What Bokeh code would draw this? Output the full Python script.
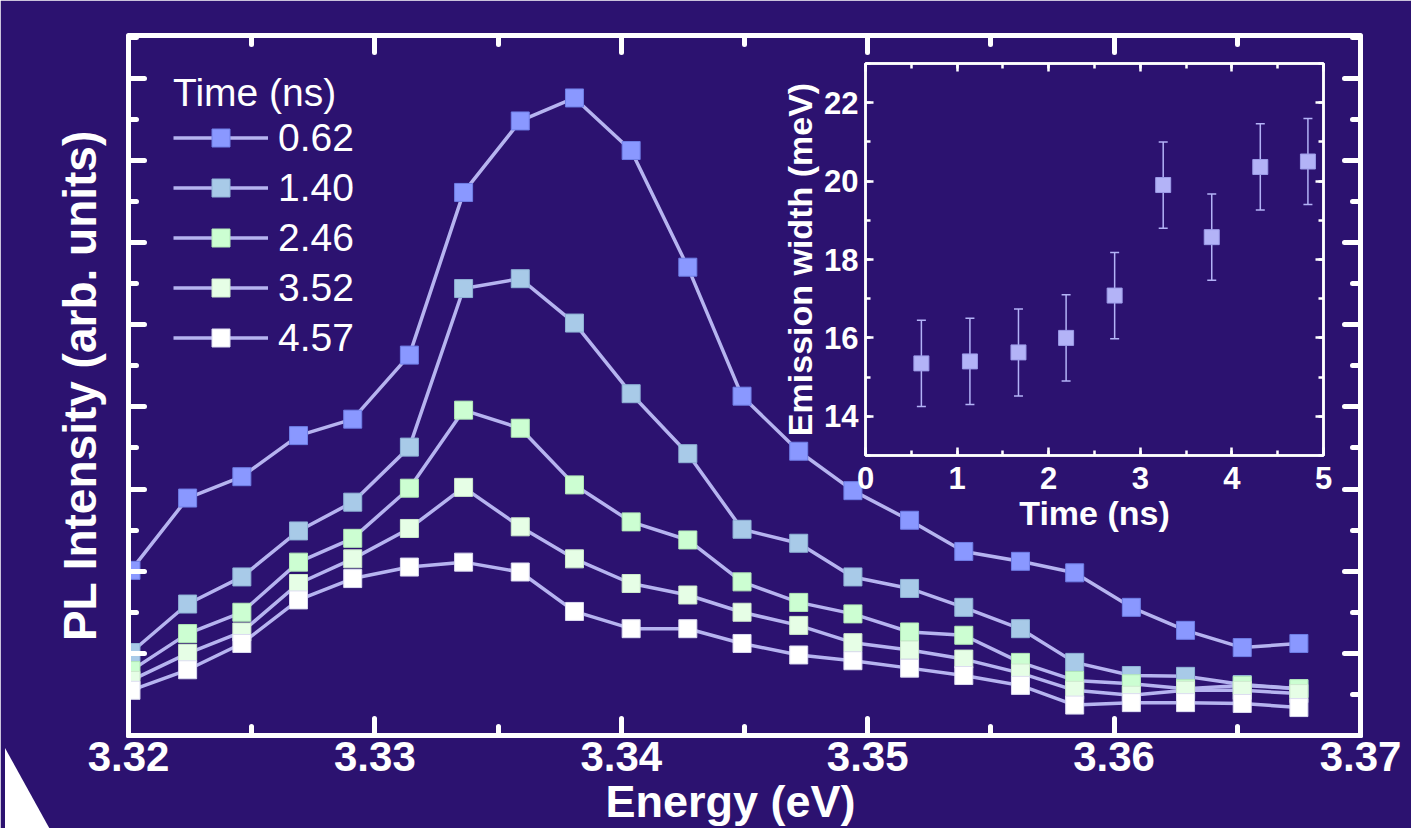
from bokeh.plotting import figure
from bokeh.models import (ColumnDataSource, Legend, LegendItem, LinearAxis, FixedTicker,
                          SingleIntervalTicker, Whisker, TeeHead, Title, Div, Range1d,
                          CustomJSTickFormatter)
from bokeh.layouts import column
from bokeh.embed import file_html
from bokeh.resources import INLINE

BG = "#2c1270"
LINE = "#b6b4f0"
FONT = "Liberation Sans"

# ---------------- data ----------------
energy = [3.3201, 3.3224, 3.3246, 3.3269, 3.3291, 3.3314, 3.3336, 3.3359, 3.3381, 3.3404, 3.3427,
          3.3449, 3.3472, 3.3494, 3.3517, 3.3539, 3.3562, 3.3584, 3.3607, 3.3629, 3.3652, 3.3675]

series_labels = ["0.62", "1.40", "2.46", "3.52", "4.57"]

pl_062 = [2.01, 2.89, 3.15, 3.65, 3.85, 4.63, 6.61, 7.48, 7.76, 7.12, 5.70,
          4.13, 3.46, 2.98, 2.62, 2.24, 2.12, 1.98, 1.56, 1.28, 1.07, 1.12]
pl_140 = [1.01, 1.60, 1.93, 2.49, 2.84, 3.51, 5.44, 5.56, 5.02, 4.16, 3.43,
          2.51, 2.34, 1.93, 1.79, 1.56, 1.30, 0.89, 0.73, 0.72, 0.62, 0.57]
pl_246 = [0.79, 1.24, 1.50, 2.11, 2.40, 3.01, 3.96, 3.74, 3.05, 2.60, 2.38,
          1.87, 1.62, 1.48, 1.26, 1.22, 0.89, 0.67, 0.63, 0.57, 0.61, 0.57]
pl_352 = [0.67, 1.00, 1.26, 1.85, 2.15, 2.52, 3.02, 2.54, 2.15, 1.85, 1.71,
          1.50, 1.34, 1.13, 1.04, 0.93, 0.76, 0.55, 0.49, 0.55, 0.55, 0.51]
pl_457 = [0.55, 0.80, 1.12, 1.65, 1.91, 2.05, 2.11, 1.99, 1.51, 1.30, 1.30,
          1.12, 0.98, 0.91, 0.82, 0.73, 0.61, 0.37, 0.40, 0.40, 0.39, 0.34]

marker_colors = ["#8a98ff", "#a8cae8", "#ccfed2", "#e6fee6", "#ffffff"]
marker_edges = ["#6f7fe6", "#8fb2d6", "#b2e8b8", "#cde8cd", "#dcdcf0"]

x_ticks = [3.32, 3.33, 3.34, 3.35, 3.36, 3.37]
x_minor = [3.325, 3.335, 3.345, 3.355, 3.365]

inset_time = [0.61, 1.14, 1.67, 2.19, 2.72, 3.25, 3.78, 4.31, 4.83]
inset_width = [15.35, 15.40, 15.63, 16.00, 17.08, 19.90, 18.57, 20.36, 20.50]
inset_err = [1.10, 1.10, 1.11, 1.10, 1.10, 1.10, 1.10, 1.10, 1.10]

# ---------------- main figure ----------------
p = figure(width=1411, height=828, x_range=Range1d(3.32, 3.37), y_range=Range1d(0, 8.52),
           output_backend="svg", toolbar_location=None,
           min_border_left=128, min_border_right=51, min_border_top=35, min_border_bottom=93,
           background_fill_color=BG, border_fill_color=BG,
           outline_line_color="white", outline_line_width=5)
p.grid.visible = False

blank = CustomJSTickFormatter(code="return ''")


def style_axis(ax, show_labels, major_len, minor_len, width):
    ax.axis_line_color = "white"
    ax.axis_line_width = width
    ax.major_tick_line_color = "white"
    ax.minor_tick_line_color = "white"
    ax.major_tick_line_width = width
    ax.minor_tick_line_width = width
    ax.major_tick_line_cap = "round"
    ax.minor_tick_line_cap = "round"
    ax.major_tick_in = major_len
    ax.major_tick_out = 0
    ax.minor_tick_in = minor_len
    ax.minor_tick_out = 0
    if not show_labels:
        ax.formatter = blank
        ax.major_label_text_font_size = "1px"
        ax.major_label_standoff = 0


xt = FixedTicker(ticks=x_ticks, minor_ticks=x_minor)
yt = SingleIntervalTicker(interval=1, num_minor_ticks=2)

xb = p.xaxis[0]
xb.ticker = xt
style_axis(xb, True, 17, 9, 5)
xb.major_label_text_font = FONT
xb.major_label_text_font_style = "bold"
xb.major_label_text_font_size = "42px"
xb.major_label_text_color = "white"
xb.major_label_standoff = 6

yl = p.yaxis[0]
yl.ticker = yt
style_axis(yl, False, 16, 8, 5)
yl.axis_label = "PL Intensity (arb. units)"
yl.axis_label_text_font = FONT
yl.axis_label_text_font_style = "bold"
yl.axis_label_text_font_size = "46px"
yl.axis_label_text_color = "white"
yl.axis_label_standoff = 23

xa = LinearAxis(ticker=xt)
style_axis(xa, False, 17, 9, 5)
p.add_layout(xa, "above")
yr = LinearAxis(ticker=yt)
style_axis(yr, False, 16, 8, 5)
p.add_layout(yr, "right")

all_series = [pl_062, pl_140, pl_246, pl_352, pl_457]
items = []
for lab, vals, fc, ec in zip(series_labels, all_series, marker_colors, marker_edges):
    lr = p.line(energy, vals, line_color=LINE, line_width=3.5)
    sr = p.scatter(energy, vals, marker="square", size=18, fill_color=fc, line_color=ec, line_width=1)
    items.append(LegendItem(label=lab, renderers=[lr, sr]))

legend = Legend(items=items, location=(45, 375), title="Time (ns)",
                glyph_width=95, glyph_height=45, label_height=45, spacing=5,
                padding=0, margin=0, label_standoff=10, title_standoff=0,
                label_text_font=FONT, label_text_font_size="39px", label_text_color="white",
                title_text_font=FONT, title_text_font_size="39px", title_text_font_style="normal",
                title_text_color="white", background_fill_alpha=0, border_line_alpha=0)
p.add_layout(legend)

p.add_layout(Title(text="Energy (eV)", align="left", offset=477, standoff=0,
                   vertical_align="bottom",
                   text_font=FONT, text_font_style="bold", text_font_size="45px",
                   text_color="white"), "below")

# ---------------- inset ----------------
INS = "#b3b3f7"
ins = figure(width=637, height=490, x_range=Range1d(0, 5), y_range=Range1d(13, 23),
             output_backend="svg", toolbar_location=None,
             min_border_left=100, min_border_right=20, min_border_top=8, min_border_bottom=90,
             background_fill_color=None, border_fill_color=None,
             outline_line_color="white", outline_line_width=2.5,
             styles={"position": "absolute", "left": "737px", "top": "55px"})
ins.grid.visible = False

ixt = SingleIntervalTicker(interval=1, num_minor_ticks=2)
iyt = SingleIntervalTicker(interval=2, num_minor_ticks=2)

ixb = ins.xaxis[0]
ixb.ticker = ixt
style_axis(ixb, True, 8, 5, 2.5)
ixb.axis_label = "Time (ns)"
iyl = ins.yaxis[0]
iyl.ticker = iyt
style_axis(iyl, True, 8, 5, 2.5)
iyl.axis_label = "Emission width (meV)"
for ax in (ixb, iyl):
    ax.major_tick_line_cap = "butt"
    ax.minor_tick_line_cap = "butt"
    ax.major_label_text_font = FONT
    ax.major_label_text_font_style = "bold"
    ax.major_label_text_font_size = "31px"
    ax.major_label_text_color = "white"
    ax.major_label_standoff = 7
    ax.axis_label_text_font = FONT
    ax.axis_label_text_font_style = "bold"
    ax.axis_label_text_font_size = "34px"
    ax.axis_label_text_color = "white"
    ax.axis_label_standoff = 2
ixb.major_label_standoff = 11

ixa = LinearAxis(ticker=ixt)
style_axis(ixa, False, 8, 5, 2.5)
ixa.major_tick_line_cap = "butt"
ixa.minor_tick_line_cap = "butt"
ins.add_layout(ixa, "above")
iyr = LinearAxis(ticker=iyt)
style_axis(iyr, False, 8, 5, 2.5)
iyr.major_tick_line_cap = "butt"
iyr.minor_tick_line_cap = "butt"
ins.add_layout(iyr, "right")

src = ColumnDataSource(dict(
    t=inset_time, w=inset_width,
    lo=[w - e for w, e in zip(inset_width, inset_err)],
    up=[w + e for w, e in zip(inset_width, inset_err)]))
ins.add_layout(Whisker(source=src, base="t", lower="lo", upper="up",
                       line_color=INS, line_width=1.5,
                       upper_head=TeeHead(size=9, line_color=INS, line_width=1.5),
                       lower_head=TeeHead(size=9, line_color=INS, line_width=1.5)))
ins.scatter("t", "w", source=src, marker="square", size=15, fill_color=INS,
            line_color="#9c9ce8", line_width=1)

tri = Div(text="", width=47, height=85,
          styles={"position": "absolute", "left": "0px", "top": "743px", "background": "white",
                  "clip-path": "polygon(0 0, 100% 100%, 0 100%)"})

layout = column(p, ins, tri)
open("out.html", "w").write(file_html(layout, INLINE))
